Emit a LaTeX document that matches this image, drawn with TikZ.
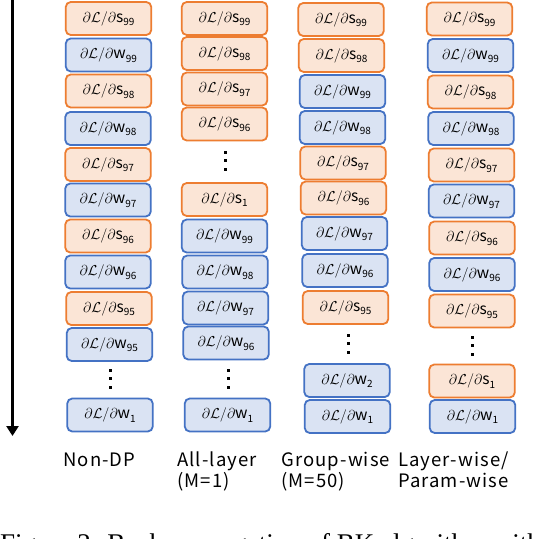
\documentclass[tikz,border=0pt]{standalone}
\usepackage{fontspec}
\newfontfamily\cjk{Noto Sans CJK SC}
\newfontfamily\lblfont[LetterSpace=6]{Noto Sans CJK SC}
\newfontfamily\capfont{Liberation Serif}
\usetikzlibrary{arrows.meta}
\definecolor{orB}{HTML}{ED7D31}
\definecolor{orF}{HTML}{FBE5D6}
\definecolor{blB}{HTML}{4472C4}
\definecolor{blF}{HTML}{DAE3F3}
\newcommand\gd[2]{{\fontsize{15.5}{15.5}\selectfont$\partial\mathcal{L}/\partial$\cjk #1\raisebox{-0.22em}{\fontsize{10}{10}\selectfont #2}}}
\tikzset{
  gbox/.style={rounded corners=5pt, line width=1.8pt, minimum width=85.5pt, minimum height=33pt, inner sep=0pt},
  sbox/.style={gbox, draw=orB, fill=orF},
  wbox/.style={gbox, draw=blB, fill=blF},
  lbl/.style={anchor=base west, inner sep=0pt, font=\lblfont\fontsize{18.5}{18.5}\selectfont},
  dotty/.style={fill=black, minimum size=3pt, inner sep=0pt, shape=rectangle}
}
\begin{document}
\begin{tikzpicture}[x=1pt,y=-1pt]
\useasboundingbox (0,0) rectangle (546,538);
\clip (0,0) rectangle (546,538);
\fill[white] (0,0) rectangle (546,538);
% time arrow
\coordinate (atop) at (12.5,-2);
\coordinate (abot) at (12.5,436);
\draw[line width=3.3pt,-{Triangle[width=12pt,length=10pt]}] (atop) -- (abot);
% column 1: Non-DP
\node[sbox] (a1) at (108.5,18.5) {\gd{s}{99}};
\node[wbox] (a2) at (108.5,55) {\gd{w}{99}};
\node[sbox] (a3) at (108.5,91) {\gd{s}{98}};
\node[wbox] (a4) at (108,128.5) {\gd{w}{98}};
\node[sbox] (a5) at (108,164.5) {\gd{s}{97}};
\node[wbox] (a6) at (108,200) {\gd{w}{97}};
\node[sbox] (a7) at (108,236) {\gd{s}{96}};
\node[wbox] (a8) at (108,272) {\gd{w}{96}};
\node[sbox] (a9) at (109,308.5) {\gd{s}{95}};
\node[wbox] (a10) at (109.5,344.5) {\gd{w}{95}};
\node[dotty] (ad1) at (110,370) {};
\node[dotty] (ad2) at (110,378.5) {};
\node[dotty] (ad3) at (110,387) {};
\node[wbox] (a11) at (110,415) {\gd{w}{1}};
% column 2: All-layer
\node[sbox] (b1) at (224.5,18.5) {\gd{s}{99}};
\node[sbox] (b2) at (224.5,53.5) {\gd{s}{98}};
\node[sbox] (b3) at (224.5,89) {\gd{s}{97}};
\node[sbox] (b4) at (224.5,124) {\gd{s}{96}};
\node[dotty] (bd1) at (225,152) {};
\node[dotty] (bd2) at (225,160.5) {};
\node[dotty] (bd3) at (225,169) {};
\node[sbox] (b5) at (224.5,199.5) {\gd{s}{1}};
\node[wbox] (b6) at (224.5,236) {\gd{w}{99}};
\node[wbox] (b7) at (225,272) {\gd{w}{98}};
\node[wbox] (b8) at (225.5,308) {\gd{w}{97}};
\node[wbox] (b9) at (226,343) {\gd{w}{96}};
\node[dotty] (bd4) at (228,370) {};
\node[dotty] (bd5) at (228,378.5) {};
\node[dotty] (bd6) at (228,387) {};
\node[wbox] (b10) at (227.5,415) {\gd{w}{1}};
% column 3: Group-wise
\node[sbox] (c1) at (341,19.5) {\gd{s}{99}};
\node[sbox] (c2) at (341.5,55.5) {\gd{s}{98}};
\node[wbox] (c3) at (342.5,91.5) {\gd{w}{99}};
\node[wbox] (c4) at (342.5,127.5) {\gd{w}{98}};
\node[sbox] (c5) at (343,163) {\gd{s}{97}};
\node[sbox] (c6) at (343.5,198) {\gd{s}{96}};
\node[wbox] (c7) at (344.5,233.5) {\gd{w}{97}};
\node[wbox] (c8) at (345,270.5) {\gd{w}{96}};
\node[sbox] (c9) at (345.5,307.5) {\gd{s}{95}};
\node[dotty] (cd1) at (348,335) {};
\node[dotty] (cd2) at (348,343.5) {};
\node[dotty] (cd3) at (348,352) {};
\node[wbox] (c10) at (347,380.5) {\gd{w}{2}};
\node[wbox] (c11) at (347.5,416.5) {\gd{w}{1}};
% column 4: Layer-wise / Param-wise
\node[sbox] (d1) at (469.5,19) {\gd{s}{99}};
\node[wbox] (d2) at (470.5,55.5) {\gd{w}{99}};
\node[sbox] (d3) at (470.5,92) {\gd{s}{98}};
\node[wbox] (d4) at (471,128.5) {\gd{w}{98}};
\node[sbox] (d5) at (471.5,165) {\gd{s}{97}};
\node[wbox] (d6) at (471.5,201) {\gd{w}{97}};
\node[sbox] (d7) at (472,238) {\gd{s}{96}};
\node[wbox] (d8) at (472,274.5) {\gd{w}{96}};
\node[sbox] (d9) at (472,311) {\gd{s}{95}};
\node[dotty] (dd1) at (472,337) {};
\node[dotty] (dd2) at (472,345.5) {};
\node[dotty] (dd3) at (472,354) {};
\node[sbox] (d10) at (472,381) {\gd{s}{1}};
\node[wbox] (d11) at (472.5,416.5) {\gd{w}{1}};
% labels
\node[lbl] (l1) at (63,466) {Non-DP};
\node[lbl] (l2) at (177,466) {All-layer};
\node[lbl] (l2b) at (177,487) {(M=1)};
\node[lbl] (l3) at (281,466) {Group-wise};
\node[lbl] (l3b) at (281,487) {(M=50)};
\node[lbl] (l4) at (398,466) {Layer-wise/};
\node[lbl] (l4b) at (398,487) {Param-wise};
% cut caption
\node[anchor=base west, inner sep=0pt, font=\capfont\fontsize{27}{27}\selectfont] (cap) at (0,552) {Figure 2: Back-propagation of BK algorithm with the};
\end{tikzpicture}
\end{document}
